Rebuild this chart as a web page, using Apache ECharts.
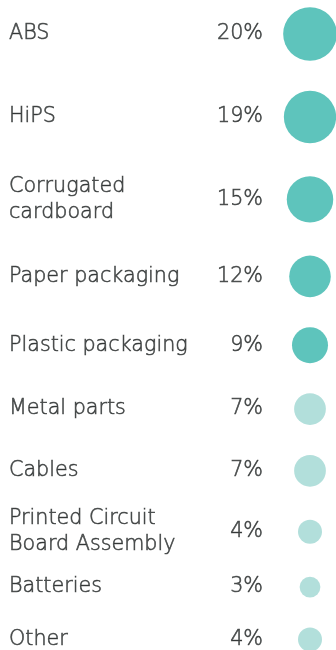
<!DOCTYPE html>
<html>
<head>
<meta charset="utf-8">
<script src="https://cdn.jsdelivr.net/npm/echarts@6/dist/echarts.min.js"></script>
<style>
html,body{margin:0;padding:0;background:#fff;}
#chart{width:336px;height:650px;}
</style>
</head>
<body>
<div id="chart"></div>
<script>
// ---- data ----
var categories = ['ABS', 'HiPS', 'Corrugated\ncardboard', 'Paper packaging', 'Plastic packaging',
                  'Metal parts', 'Cables', 'Printed Circuit\nBoard Assembly', 'Batteries', 'Other'];
var shares = [20, 19, 15, 12, 9, 7, 7, 4, 3, 4];
var majorCount = 5; // first five materials drawn in the stronger colour

// ---- layout (derived from data) ----
var W = 336, H = 650;
var COL_NAME = 9, COL_PCT = 263, COL_DOT = 310;
var DIAM_PER_SQRT = 12;   // circle area proportional to share
var ROW_GAP = 30, EXTRA_LINE_GAP = 3, FIRST_ROW = 34;
var FONT = '"DejaVu Sans", "Open Sans", sans-serif';
var TEXT = '#2c302f';
var DARK = '#5ec4bc', LIGHT = '#b2dfdb';

function diam(v) { return DIAM_PER_SQRT * Math.sqrt(v); }
function lines(s) { return s.split('\n').length; }
var rowY = [];
for (var i = 0; i < categories.length; i++) {
  if (i === 0) { rowY.push(FIRST_ROW); continue; }
  var step = (diam(shares[i - 1]) + diam(shares[i])) / 2 + ROW_GAP +
             EXTRA_LINE_GAP * ((lines(categories[i - 1]) - 1) + (lines(categories[i]) - 1));
  rowY.push(rowY[i - 1] + step);
}

var nameData = categories.map(function (c, i) { return { value: [COL_NAME, rowY[i]], name: c }; });
var pctData = shares.map(function (v, i) { return { value: [COL_PCT, rowY[i]], name: v + '%' }; });
var dotData = shares.map(function (v, i) {
  return { value: [COL_DOT, rowY[i]], symbolSize: diam(v),
           itemStyle: { color: i < majorCount ? DARK : LIGHT } };
});

var labelStyle = {
  show: true, distance: 0, verticalAlign: 'middle',
  formatter: function (p) { return p.name; },
  fontFamily: FONT, fontSize: 20.7, fontWeight: 200, lineHeight: 26, color: TEXT,
  textBorderColor: TEXT, textBorderWidth: 0.6
};

var chart = echarts.init(document.getElementById('chart'), null, { renderer: 'canvas' });
chart.setOption({
  animation: false,
  backgroundColor: '#fff',
  grid: { left: 0, right: 0, top: 0, bottom: 0 },
  xAxis: { type: 'value', min: 0, max: W, show: false },
  yAxis: { type: 'value', min: 0, max: H, inverse: true, show: false },
  series: [
    {
      type: 'scatter', data: dotData, clip: false, silent: true,
      symbol: 'circle', itemStyle: { opacity: 1 }
    },
    {
      type: 'scatter', data: nameData, symbolSize: 0, clip: false, silent: true,
      label: Object.assign({}, labelStyle, { position: 'right', align: 'left' })
    },
    {
      type: 'scatter', data: pctData, symbolSize: 0, clip: false, silent: true,
      label: Object.assign({}, labelStyle, { position: 'left', align: 'right' })
    }
  ]
});
</script>
</body>
</html>
